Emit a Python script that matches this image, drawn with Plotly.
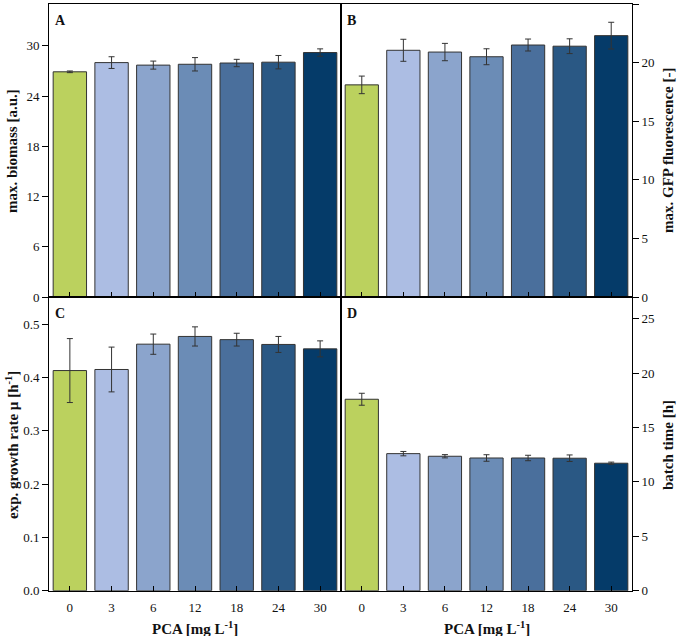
import plotly.graph_objects as go
from plotly.subplots import make_subplots

categories = ["0", "3", "6", "12", "18", "24", "30"]
colors = ["#BBD15E", "#ACBDE3", "#8BA4CC", "#6B8CB6", "#4A6F9C", "#2A5884", "#053B69"]

biomass = [26.9, 28.0, 27.7, 27.8, 27.95, 28.05, 29.2]
biomass_err = [0.1, 0.7, 0.48, 0.8, 0.44, 0.8, 0.44]

gfp = [18.1, 21.05, 20.9, 20.5, 21.5, 21.4, 22.3]
gfp_err = [0.75, 0.94, 0.74, 0.68, 0.51, 0.63, 1.14]

mu = [0.413, 0.415, 0.4625, 0.477, 0.471, 0.462, 0.4537]
mu_err = [0.06, 0.042, 0.019, 0.018, 0.012, 0.015, 0.015]

batch = [17.6, 12.6, 12.36, 12.2, 12.2, 12.18, 11.72]
batch_err = [0.55, 0.2, 0.15, 0.3, 0.25, 0.3, 0.1]

panels = [
    (1, 1, biomass, biomass_err, "A"),
    (1, 2, gfp, gfp_err, "B"),
    (2, 1, mu, mu_err, "C"),
    (2, 2, batch, batch_err, "D"),
]

fig = make_subplots(rows=2, cols=2, horizontal_spacing=0, vertical_spacing=0)

for r, c, vals, errs, lab in panels:
    fig.add_trace(go.Bar(
        x=categories, y=vals,
        marker=dict(color=colors, line=dict(color="#333333", width=1)),
        width=0.8,
        error_y=dict(type="data", array=errs, visible=True, color="#333333", thickness=1, width=3),
        showlegend=False,
    ), row=r, col=c)

W, H = 677, 636
FIG_H = 644
xl, xm, xr = 49 / W, 341 / W, 632 / W
yt, ym, yb = 1 - 4 / H, 1 - 297 / H, 1 - 590.7 / H

FAM = '"Liberation Serif", "Times New Roman", Times, serif'
font = dict(family=FAM, size=13, color="#111111")
title_font = dict(family=FAM, size=15, color="#111111")

fig.update_layout(
    width=W, height=FIG_H,
    margin=dict(l=0, r=0, t=0, b=0),
    paper_bgcolor="white", plot_bgcolor="white",
    font=font, bargap=0.2,
    xaxis=dict(domain=[xl, xm], anchor="y"),
    xaxis2=dict(domain=[xm, xr], anchor="y2"),
    xaxis3=dict(domain=[xl, xm], anchor="y3"),
    xaxis4=dict(domain=[xm, xr], anchor="y4"),
    yaxis=dict(domain=[ym, yt], anchor="x", range=[0, 35], tickvals=[0, 6, 12, 18, 24, 30], side="left"),
    yaxis2=dict(domain=[ym, yt], anchor="x2", range=[0, 25], tickvals=[0, 5, 10, 15, 20, 25], side="right"),
    yaxis3=dict(domain=[yb, ym], anchor="x3", range=[0, 0.551], tickvals=[0, 0.1, 0.2, 0.3, 0.4, 0.5],
                tickformat=".1f", side="left"),
    yaxis4=dict(domain=[yb, ym], anchor="x4", range=[0, 27], tickvals=[0, 5, 10, 15, 20, 25], side="right"),
)

for ax in ["xaxis", "xaxis2", "xaxis3", "xaxis4"]:
    fig.layout[ax].update(type="category", range=[-0.5, 6.5], showline=True, mirror=True,
                          linecolor="black", linewidth=1, ticks="inside", ticklen=5,
                          tickcolor="black", showgrid=False, zeroline=False, tickfont=font,
                          ticklabelstandoff=5)
fig.layout.xaxis.update(showticklabels=False)
fig.layout.xaxis2.update(showticklabels=False)

for ax in ["yaxis", "yaxis2", "yaxis3", "yaxis4"]:
    fig.layout[ax].update(showline=True, mirror=True, linecolor="black", linewidth=1,
                          ticks="outside", ticklen=6, tickcolor="black",
                          showgrid=False, zeroline=False, tickfont=font)

# axis titles as annotations
def ann(text, x, y, angle=0):
    fig.add_annotation(x=x / W, y=1 - y / H, xref="paper", yref="paper", text=text,
                       showarrow=False, xanchor="center", yanchor="middle", textangle=angle,
                       font=title_font)

ann("<b>max. biomass [a.u.]</b>", 12, 151, -90)
ann("<b>exp. growth rate µ [h<sup>-1</sup>]</b>", 12, 445, -90)
ann("<b>max. GFP fluorescence [-]</b>", 668, 150, -90)
ann("<b>batch time [h]</b>", 668, 445, -90)
ann("<b>PCA [mg L<sup>-1</sup>]</b>", 195, 628)
ann("<b>PCA [mg L<sup>-1</sup>]</b>", 487, 628)

label_pos = {"A": (53 / W, yt), "B": (345 / W, yt), "C": (53 / W, ym), "D": (345 / W, ym)}
for lab, (px, py) in label_pos.items():
    fig.add_annotation(x=px, y=py - 7 / H, xref="paper", yref="paper", text=f"<b>{lab}</b>",
                       showarrow=False, xanchor="left", yanchor="top",
                       font=dict(family=FAM, size=14, color="#111111"))

post = (
    "var h=document.documentElement, b=document.body;"
    "h.style.margin='0'; h.style.padding='0'; h.style.overflow='hidden';"
    "b.style.margin='0'; b.style.padding='0'; b.style.overflow='hidden';"
    "b.style.lineHeight='0'; b.style.fontSize='0';"
)
fig.write_html("out.html", config={"displayModeBar": False}, post_script=post)
